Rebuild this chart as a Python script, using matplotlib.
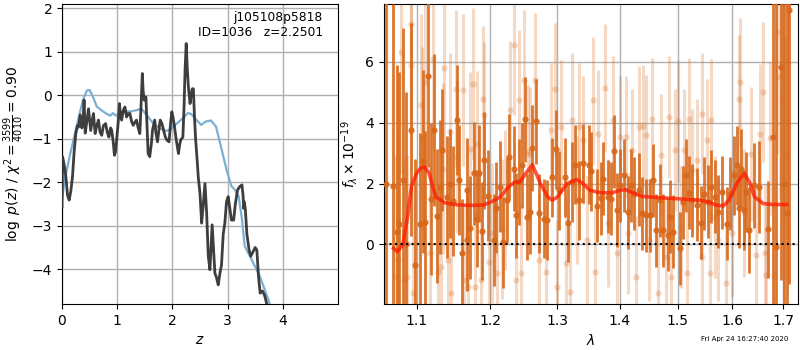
import numpy as np
import matplotlib
matplotlib.use("Agg")
import matplotlib.pyplot as plt
from matplotlib.ticker import FixedLocator, NullLocator, FixedFormatter

# ---------------- redshift probability: chi2-based p(z) ----------------
z_fit = [0.0, 0.01, 0.04, 0.07, 0.10, 0.13, 0.16, 0.19, 0.22, 0.25, 0.28, 0.30,
         0.33, 0.36, 0.38, 0.40, 0.42, 0.45, 0.48, 0.52, 0.55, 0.57, 0.60, 0.63,
         0.66, 0.69, 0.72, 0.75, 0.79, 0.82, 0.85, 0.88, 0.90, 0.93, 0.95, 0.97,
         0.99, 1.02, 1.04, 1.06, 1.08, 1.11, 1.14, 1.17, 1.20, 1.23, 1.26, 1.29,
         1.32, 1.35, 1.38, 1.41, 1.43, 1.455, 1.47, 1.49, 1.52, 1.54, 1.56, 1.59,
         1.62, 1.64, 1.68, 1.70, 1.73, 1.76, 1.78, 1.81, 1.84, 1.87, 1.90, 1.94,
         1.97, 1.99, 2.01, 2.03, 2.05, 2.07, 2.11, 2.13, 2.15, 2.19, 2.21, 2.23,
         2.25, 2.27, 2.29, 2.32, 2.34, 2.36, 2.38, 2.40, 2.42, 2.44, 2.47, 2.50,
         2.53, 2.56, 2.59, 2.62, 2.65, 2.68, 2.72, 2.745, 2.77, 2.80, 2.83, 2.86,
         2.89, 2.92, 2.95, 2.98, 3.01, 3.04, 3.07, 3.11, 3.14, 3.18, 3.22, 3.26,
         3.28, 3.29, 3.30, 3.32, 3.35, 3.39, 3.42, 3.46, 3.50, 3.53, 3.56, 3.59,
         3.63, 3.67, 3.72]
logp_fit = [-2.56, -1.41, -1.60, -1.87, -2.30, -2.41, -2.20, -1.87, -1.30, -0.88, -0.70, -0.73,
            -0.45, -0.75, -0.60, -0.11, -0.87, -0.60, -0.31, -0.81, -0.55, -0.42, -0.88, -0.70,
            -0.57, -0.85, -0.92, -0.70, -0.65, -0.85, -0.96, -0.75, -0.80, -1.10, -1.38, -1.30,
            -1.03, -0.60, -0.19, -0.45, -0.57, -0.35, -0.27, -0.50, -0.42, -0.42, -0.60, -0.69,
            -0.62, -0.57, -0.75, -0.88, -0.30, 0.50, 0.10, -0.11, -0.04, -0.70, -1.34, -1.41,
            -1.10, -0.80, -0.57, -0.85, -1.07, -0.75, -0.57, -0.65, -0.80, -0.95, -1.03, -1.07,
            -0.60, -0.38, -0.50, -0.65, -0.85, -1.03, -1.34, -1.15, -1.03, -0.96, -0.30, 0.60,
            1.19, 0.60, 0.19, -0.19, 0.00, 0.15, 0.15, -0.50, -1.00, -1.34, -1.90, -2.26,
            -2.94, -2.50, -2.03, -2.70, -3.70, -4.01, -2.98, -3.55, -4.09, -4.20, -4.36, -4.10,
            -3.90, -3.20, -2.94, -2.45, -2.33, -2.60, -2.87, -2.87, -2.50, -2.18, -2.10, -2.06,
            -2.30, -2.60, -2.45, -2.60, -3.20, -3.56, -3.70, -3.60, -3.50, -3.56, -4.17, -4.55,
            -4.50, -4.60, -4.85]

# ---------------- redshift prior ----------------
z_prior = [0.0, 0.05, 0.14, 0.25, 0.32, 0.38, 0.45, 0.50, 0.56, 0.63, 0.71, 0.79,
           0.875, 0.92, 0.98, 1.04, 1.13, 1.26, 1.35, 1.44, 1.53, 1.65, 1.77, 1.89,
           1.95, 2.07, 2.16, 2.28, 2.34, 2.43, 2.52, 2.61, 2.70, 2.79, 2.88, 2.98,
           3.07, 3.13, 3.20, 3.26, 3.31, 3.40, 3.49, 3.58, 3.67, 3.76]
logp_prior = [-2.40, -1.94, -1.40, -0.79, -0.41, -0.11, 0.11, 0.12, -0.03, -0.26, -0.34, -0.41,
              -0.47, -0.41, -0.47, -0.41, -0.37, -0.37, -0.34, -0.31, -0.45, -0.64, -0.76, -0.82,
              -0.79, -0.66, -0.56, -0.41, -0.43, -0.56, -0.68, -0.60, -0.58, -0.72, -1.18, -1.71,
              -2.09, -2.17, -2.32, -2.85, -3.47, -3.69, -3.92, -4.15, -4.46, -4.78]

# ---------------- spectrum: binned points ----------------
wave_bin = [1.061, 1.069, 1.074, 1.077, 1.082, 1.086, 1.092, 1.098, 1.104, 1.108, 1.111, 1.115,
            1.119, 1.123, 1.127, 1.131, 1.134, 1.140, 1.144, 1.148, 1.154, 1.157, 1.161, 1.167,
            1.168, 1.172, 1.177, 1.181, 1.185, 1.188, 1.192, 1.197, 1.205, 1.209, 1.214, 1.219,
            1.224, 1.228, 1.235, 1.238, 1.242, 1.247, 1.251, 1.254, 1.258, 1.262, 1.267, 1.272,
            1.279, 1.284, 1.291, 1.298, 1.303, 1.311, 1.317, 1.323, 1.327, 1.334, 1.340, 1.349,
            1.353, 1.362, 1.369, 1.372, 1.380, 1.385, 1.390, 1.395, 1.401, 1.407, 1.414, 1.418,
            1.424, 1.433, 1.437, 1.445, 1.451, 1.457, 1.462, 1.468, 1.474, 1.482, 1.486, 1.492,
            1.504, 1.510, 1.515, 1.520, 1.526, 1.534, 1.541, 1.548, 1.554, 1.561, 1.567, 1.574,
            1.580, 1.590, 1.595, 1.603, 1.609, 1.613, 1.617, 1.622, 1.626, 1.633, 1.641, 1.651,
            1.670, 1.680, 1.685, 1.695, 1.701, 1.707, 1.711]
flux_bin = [2.00, 1.91, 0.40, 0.67, 2.10, 0.00, 3.77, -0.68, 0.67, 2.73, 0.72, 5.54,
            1.50, 3.77, 0.93, 1.89, 3.09, 1.56, 2.00, 1.43, 4.08, 2.11, -0.30, 1.80,
            0.16, 0.55, 2.33, 0.85, 2.33, 0.44, 2.76, 1.60, 0.14, 1.20, 1.90, 0.07,
            1.45, 2.87, 2.49, 0.96, 2.05, 2.60, 4.11, 0.90, 1.07, 3.17, 4.05, 1.02,
            0.85, 0.80, 2.20, 3.13, 1.78, 2.20, 0.71, 2.05, 2.62, 1.45, 2.66, 2.62,
            2.40, 1.27, 1.51, 2.15, 1.56, 1.50, 3.06, 1.13, 1.95, 2.27, 1.05, 1.95,
            1.67, 1.80, 1.02, 0.96, 0.96, 2.11, 0.47, 1.45, 0.47, 0.31, 0.90, 0.42,
            -0.13, 1.38, 2.27, 1.70, 1.45, 1.30, 0.71, 1.67, 1.40, 1.89, 1.56, 1.07,
            1.72, 0.67, 1.67, 2.27, 2.60, 1.18, 2.49, 1.13, 1.72, 0.47, 1.94, 1.89,
            0.49, 3.53, -0.08, 5.82, 2.00, 1.02, 7.70]
err_bin = [14.0, 6.0, 5.5, 5.0, 5.0, 5.0, 3.5, 3.5, 3.0, 3.0, 3.0, 3.0,
           2.5, 2.5, 2.2, 2.2, 2.0, 2.0, 1.8, 1.8, 1.8, 1.8, 1.8, 1.7,
           1.7, 1.7, 1.7, 1.6, 1.6, 1.6, 1.6, 1.5, 1.5, 1.5, 1.5, 1.5,
           1.4, 1.4, 1.4, 1.4, 1.4, 1.4, 1.4, 1.4, 1.4, 1.4, 1.4, 1.3,
           1.3, 1.3, 1.3, 1.3, 1.3, 1.3, 1.3, 1.3, 1.3, 1.3, 1.3, 1.3,
           1.3, 1.2, 1.2, 1.2, 1.2, 1.2, 1.2, 1.2, 1.2, 1.2, 1.2, 1.2,
           1.2, 1.2, 1.2, 1.2, 1.2, 1.2, 1.2, 1.2, 1.2, 1.2, 1.2, 1.2,
           1.2, 1.2, 1.2, 1.2, 1.2, 1.2, 1.2, 1.2, 1.2, 1.2, 1.2, 1.2,
           1.2, 1.2, 1.2, 1.3, 1.3, 1.3, 1.3, 1.3, 1.3, 1.4, 1.4, 1.5,
           1.6, 6.0, 9.0, 7.0, 9.0, 9.0, 9.0]

# ---------------- spectrum: unbinned points ----------------
wave_raw = [1.072, 1.076, 1.079, 1.084, 1.087, 1.092, 1.093, 1.095, 1.106, 1.107, 1.111, 1.118,
            1.122, 1.128, 1.132, 1.135, 1.136, 1.141, 1.144, 1.145, 1.152, 1.154, 1.162, 1.163,
            1.169, 1.172, 1.176, 1.179, 1.181, 1.187, 1.190, 1.192, 1.198, 1.203, 1.210, 1.217,
            1.221, 1.229, 1.234, 1.238, 1.242, 1.245, 1.250, 1.255, 1.259, 1.266, 1.272, 1.282,
            1.290, 1.297, 1.300, 1.305, 1.313, 1.320, 1.323, 1.330, 1.334, 1.340, 1.346, 1.356,
            1.359, 1.364, 1.375, 1.380, 1.389, 1.395, 1.400, 1.410, 1.414, 1.421, 1.428, 1.432,
            1.439, 1.445, 1.450, 1.455, 1.465, 1.471, 1.479, 1.484, 1.488, 1.494, 1.500, 1.505,
            1.511, 1.517, 1.520, 1.526, 1.535, 1.543, 1.544, 1.553, 1.559, 1.561, 1.568, 1.574,
            1.588, 1.600, 1.612, 1.615, 1.623, 1.636, 1.646, 1.654, 1.659, 1.663, 1.666, 1.674,
            1.681, 1.688, 1.693, 1.700, 1.703]
flux_raw = [-1.06, -0.50, 6.32, -1.17, -1.06, 7.25, 5.90, -1.60, 4.57, 3.50, 5.33, -0.30,
            6.10, -0.90, -0.73, 2.49, 5.80, -0.51, 3.69, -1.60, 5.10, 2.87, 5.08, -1.17,
            -1.39, 3.15, 5.28, -1.39, 3.31, -1.17, 4.79, 4.24, -0.57, 0.36, -0.95, 0.52,
            1.45, 4.40, 6.56, -1.17, 4.73, -0.95, 5.39, 3.04, 2.98, 5.39, -0.51, -0.90,
            3.75, 5.09, -1.39, 3.86, -0.62, -1.55, 4.08, 1.45, 3.86, 3.42, 0.14, 4.73,
            -0.90, 3.64, 5.15, 0.69, 4.08, -0.30, 3.53, 3.53, 0.36, 3.09, -1.06, 3.86,
            3.88, 3.58, 0.14, 4.13, -1.60, 2.93, -0.40, 4.19, -1.06, 3.09, 4.05, 0.58,
            3.09, -0.95, 4.13, 2.44, 2.77, 4.30, -0.40, 3.42, -0.95, 4.08, 0.90, 0.14,
            -1.28, 0.36, 4.79, 5.33, 1.02, 2.98, -0.35, 3.64, 5.00, -0.30, -1.00, 3.48,
            -1.00, 6.97, 5.50, 4.73, 2.87]
err_raw = [4.0, 4.0, 4.0, 4.0, 4.0, 3.5, 3.5, 3.5, 3.0, 3.0, 3.0, 3.0,
           3.0, 2.8, 2.8, 2.8, 2.8, 2.6, 2.6, 2.6, 2.6, 2.5, 2.5, 2.5,
           2.5, 2.5, 2.5, 2.5, 2.4, 2.4, 2.4, 2.4, 2.4, 2.3, 2.3, 2.3,
           2.3, 2.3, 2.3, 2.3, 2.3, 2.3, 2.3, 2.2, 2.2, 2.2, 2.2, 2.2,
           2.2, 2.2, 2.2, 2.2, 2.2, 2.2, 2.2, 2.1, 2.1, 2.1, 2.1, 2.1,
           2.1, 2.1, 2.1, 2.1, 2.1, 2.1, 2.0, 2.0, 2.0, 2.0, 2.0, 2.0,
           2.0, 2.0, 2.0, 2.0, 2.0, 2.0, 2.0, 2.0, 2.0, 2.0, 2.0, 2.0,
           2.0, 2.0, 2.0, 2.0, 2.0, 2.0, 2.0, 2.0, 2.0, 2.0, 2.0, 2.0,
           2.0, 2.1, 2.1, 2.1, 2.1, 2.2, 2.2, 2.3, 2.3, 2.3, 2.3, 2.5,
           3.0, 4.0, 4.0, 4.0, 4.0]

# ---------------- best-fit model ----------------
wave_model = [1.070, 1.075, 1.082, 1.088, 1.093, 1.100, 1.105, 1.110, 1.116, 1.125, 1.137, 1.150,
              1.170, 1.190, 1.200, 1.215, 1.227, 1.236, 1.243, 1.252, 1.262, 1.274, 1.285, 1.292,
              1.300, 1.315, 1.330, 1.340, 1.351, 1.367, 1.387, 1.397, 1.409, 1.423, 1.437, 1.462,
              1.500, 1.540, 1.555, 1.570, 1.583, 1.594, 1.610, 1.623, 1.633, 1.643, 1.660, 1.680,
              1.707]
flux_model = [-0.13, -0.24, 0.00, 0.90, 1.90, 2.35, 2.50, 2.55, 2.35, 1.56, 1.37, 1.31,
              1.28, 1.29, 1.38, 1.56, 1.90, 2.05, 2.05, 2.33, 2.62, 2.00, 1.56, 1.45,
              1.56, 2.00, 2.13, 2.00, 1.78, 1.70, 1.69, 1.76, 1.80, 1.69, 1.58, 1.54,
              1.50, 1.45, 1.40, 1.29, 1.26, 1.45, 2.05, 2.33, 2.05, 1.56, 1.34, 1.31,
              1.31]

lam_ticks = [1.1, 1.2, 1.3, 1.4, 1.5, 1.6, 1.7]
lam_tick_labels = ["1.1", "1.2", "1.3", "1.4", "1.5", "1.6", "1.7"]

spec_color = "#d8681a"

fig = plt.figure(figsize=(8, 3.5), dpi=100)
ax1 = fig.add_axes([0.0775, 0.1314, 0.345, 0.8572])
ax2 = fig.add_axes([0.48, 0.1314, 0.5175, 0.8572])

# left panel: p(z)
ax1.plot(z_prior, logp_prior, color="#7bafd4", lw=1.6, zorder=3)
ax1.plot(z_fit, logp_fit, color="#333333", lw=2.0, alpha=0.95, zorder=4)
ax1.set_xlim(0, 5.0)
ax1.set_ylim(-4.8, 2.1)
ax1.set_xticks([0, 1, 2, 3, 4])
ax1.set_yticks([-4, -3, -2, -1, 0, 1, 2])
ax1.grid(True, color="#b0b0b0", lw=1.0)
ax1.set_xlabel(r"$z$", fontsize=10)
ax1.set_ylabel(r"$\log\ p(z)$ / $\chi^2=\frac{3599}{4010}=0.90$", fontsize=10)
ax1.text(0.945, 0.975, "j105108p5818\nID=1036   z=2.2501", transform=ax1.transAxes,
         ha="right", va="top", fontsize=8.8, linespacing=1.15)

# right panel: spectrum
ax2.errorbar(wave_raw, flux_raw, yerr=err_raw, fmt="o", color=spec_color, alpha=0.25,
             ms=4.5, elinewidth=2.2, mew=0, zorder=2)
ax2.errorbar(wave_bin, flux_bin, yerr=err_bin, fmt="o", color=spec_color, alpha=0.9,
             ms=4.5, elinewidth=2.0, mew=0, zorder=3)
ax2.plot(wave_model, flux_model, color="#ff1a00", lw=2.6, alpha=0.75, zorder=5)
ax2.axhline(0, color="black", ls=":", lw=1.5, zorder=6)

ax2.set_xscale("log")
ax2.set_xlim(1.058, 1.73)
ax2.set_ylim(-1.96, 7.9)
ax2.xaxis.set_major_locator(FixedLocator(lam_ticks))
ax2.xaxis.set_major_formatter(FixedFormatter(lam_tick_labels))
ax2.xaxis.set_minor_locator(NullLocator())
ax2.set_yticks([0, 2, 4, 6])
ax2.grid(True, color="#b0b0b0", lw=1.0)
ax2.set_xlabel(r"$\lambda$", fontsize=10)
ax2.set_ylabel(r"$f_\lambda\times10^{-19}$", fontsize=10)

fig.text(0.985, 0.031, "Fri Apr 24 16:27:40 2020", ha="right", va="center", fontsize=5)

fig.savefig("out.png", dpi=100)
